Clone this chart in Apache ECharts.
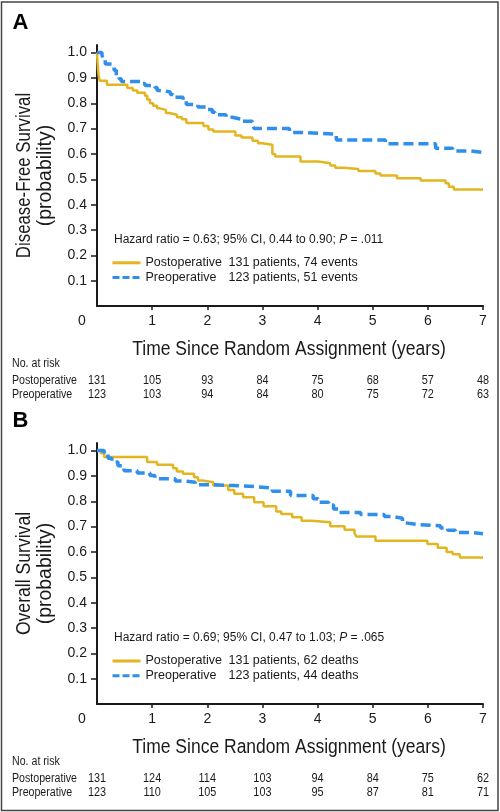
<!DOCTYPE html>
<html><head><meta charset="utf-8">
<script src="https://cdn.jsdelivr.net/npm/echarts@6/dist/echarts.min.js"></script>
<style>html,body{margin:0;padding:0;background:#fff}#c{width:500px;height:812px}</style>
</head><body><div id="c"></div>
<script>
// ---- data ----
const xTicks = [0, 1, 2, 3, 4, 5, 6, 7];
const yTicks = [0.1, 0.2, 0.3, 0.4, 0.5, 0.6, 0.7, 0.8, 0.9, 1.0];

const dfsPostT = [0, 0.01, 0.02, 0.03, 0.05, 0.18, 0.55, 0.65, 0.73, 0.87, 0.91, 0.96, 1.02, 1.09, 1.14, 1.25, 1.31, 1.45, 1.54, 1.62, 1.93, 2.02, 2.11, 2.51, 2.62, 2.82, 2.92, 3.00, 3.18, 3.23, 3.69, 4.01, 4.23, 4.32, 4.47, 4.74, 5.05, 5.14, 5.44, 5.87, 6.32, 6.38, 6.47, 7.0];
const dfsPostS = [1.0, 0.96, 0.93, 0.91, 0.889, 0.873, 0.86, 0.85, 0.842, 0.83, 0.815, 0.80, 0.79, 0.78, 0.774, 0.762, 0.755, 0.745, 0.737, 0.722, 0.71, 0.697, 0.689, 0.673, 0.665, 0.652, 0.642, 0.636, 0.60, 0.59, 0.57, 0.563, 0.554, 0.546, 0.541, 0.533, 0.523, 0.515, 0.504, 0.495, 0.484, 0.471, 0.46, 0.46];

const dfsPreT = [0, 0.09, 0.11, 0.15, 0.27, 0.31, 0.35, 0.40, 0.44, 0.78, 0.87, 1.05, 1.09, 1.14, 1.33, 1.38, 1.56, 1.62, 1.83, 2.00, 2.09, 2.14, 2.34, 2.45, 2.60, 2.82, 2.85, 3.49, 3.69, 4.34, 5.23, 6.14, 6.45, 6.78, 7.0];
const dfsPreS = [1.0, 0.99, 0.975, 0.955, 0.95, 0.93, 0.91, 0.897, 0.886, 0.878, 0.87, 0.862, 0.85, 0.845, 0.835, 0.824, 0.81, 0.795, 0.785, 0.775, 0.765, 0.755, 0.745, 0.738, 0.729, 0.715, 0.70, 0.685, 0.678, 0.655, 0.64, 0.623, 0.612, 0.606, 0.606];

const osPostT = [0, 0.07, 0.13, 0.91, 1.09, 1.38, 1.45, 1.56, 1.76, 1.83, 1.91, 2.11, 2.38, 2.49, 2.65, 2.85, 3.02, 3.25, 3.34, 3.54, 3.71, 3.89, 4.23, 4.49, 4.67, 4.70, 5.05, 5.99, 6.18, 6.34, 6.45, 6.58, 7.0];
const osPostS = [1.0, 0.99, 0.975, 0.955, 0.944, 0.93, 0.918, 0.909, 0.895, 0.882, 0.875, 0.862, 0.845, 0.83, 0.816, 0.796, 0.78, 0.76, 0.75, 0.737, 0.723, 0.717, 0.701, 0.688, 0.675, 0.661, 0.644, 0.631, 0.617, 0.60, 0.591, 0.578, 0.578];

const osPreT = [0, 0.13, 0.20, 0.27, 0.38, 0.49, 0.73, 0.96, 1.05, 1.42, 1.60, 1.78, 2.09, 2.47, 2.87, 3.18, 3.51, 3.92, 4.01, 4.20, 4.29, 4.38, 4.78, 5.21, 5.36, 5.54, 5.59, 5.83, 6.23, 6.36, 6.50, 6.78, 7.0];
const osPreS = [1.0, 0.985, 0.97, 0.955, 0.94, 0.92, 0.912, 0.902, 0.889, 0.88, 0.875, 0.865, 0.862, 0.858, 0.852, 0.84, 0.823, 0.81, 0.796, 0.785, 0.77, 0.756, 0.748, 0.74, 0.733, 0.715, 0.708, 0.703, 0.695, 0.686, 0.677, 0.672, 0.672];

const riskA_post = [131, 105, 93, 84, 75, 68, 57, 48];
const riskA_pre = [123, 103, 94, 84, 80, 75, 72, 63];
const riskB_post = [131, 124, 114, 103, 94, 84, 75, 62];
const riskB_pre = [123, 110, 105, 103, 95, 87, 81, 71];

const groupNames = ['Postoperative', 'Preoperative'];
const legendA = ['131 patients, 74 events', '123 patients, 51 events'];
const legendB = ['131 patients, 62 deaths', '123 patients, 44 deaths'];
const hrA = 'Hazard ratio = 0.63; 95% CI, 0.44 to 0.90; {i|P} = .011';
const hrB = 'Hazard ratio = 0.69; 95% CI, 0.47 to 1.03; {i|P} = .065';
const yTitleA = ['Disease-Free Survival', '(probability)'];
const yTitleB = ['Overall Survival', '(probability)'];
const xTitle = 'Time Since Random Assignment (years)';

// ---- style ----
const SANS = "'Liberation Sans', Arial, sans-serif";
const YEL = '#E3B520';
const BLU = '#2F8FEA';
const INK = '#1a1a1a';

const zip = (T, S) => T.map((t, i) => [t, S[i]]);

const chart = echarts.init(document.getElementById('c'), null, {renderer: 'canvas'});

function xAx(g) {
  return {
    type: 'value', gridIndex: g, min: 0, max: 7, interval: 1,
    axisLine: {lineStyle: {color: INK, width: 2}},
    axisTick: {show: true, length: 4, customValues: xTicks.slice(1), lineStyle: {color: INK, width: 1.5}},
    axisLabel: {
      fontSize: 14, color: INK, fontFamily: SANS, margin: 8,
      formatter: v => v === 0 ? '{z|0}' : String(v),
      rich: {z: {fontSize: 14, color: INK, fontFamily: SANS, padding: [0, 30, 0, 0]}}
    },
    splitLine: {show: false}
  };
}
function yAx(g) {
  return {
    type: 'value', gridIndex: g, min: 0, max: 1.03, interval: 0.1,
    axisLine: {show: true, lineStyle: {color: INK, width: 2}},
    axisTick: {show: true, length: 6, customValues: yTicks, lineStyle: {color: INK, width: 1.5}},
    axisLabel: {customValues: yTicks, fontSize: 14, color: INK, fontFamily: SANS, margin: 10,
      formatter: v => v.toFixed(1)},
    splitLine: {show: false}
  };
}
function ser(name, T, S, g, dashed) {
  return {
    name: name, type: 'line', step: 'end', xAxisIndex: g, yAxisIndex: g,
    data: zip(T, S), symbol: 'none', silent: true,
    lineStyle: dashed ? {color: BLU, width: 3.5, type: [10, 5]} : {color: YEL, width: 2.5},
    itemStyle: {color: dashed ? BLU : YEL}
  };
}
function leg(top, ids, texts) {
  const rt = {fontSize: 12.5, fontFamily: SANS, color: INK, lineHeight: 12};
  return {
    orient: 'vertical', left: 111, top: top, itemWidth: 28, itemHeight: 12, itemGap: 1.7,
    selectedMode: false, padding: 0,
    data: [
      {name: ids[0], lineStyle: {width: 3, color: YEL}, itemStyle: {opacity: 0, borderWidth: 0}},
      {name: ids[1], lineStyle: {width: 3, color: BLU, type: [7, 3]}, itemStyle: {opacity: 0, borderWidth: 0}}
    ],
    formatter: n => {
      const k = n === ids[0] ? 0 : 1;
      return '{n|' + groupNames[k] + '}{d|' + texts[k] + '}';
    },
    textStyle: Object.assign({}, rt, {rich: {n: Object.assign({width: 83}, rt), d: rt}})
  };
}

chart.setOption({
  animation: false,
  backgroundColor: '#fff',
  textStyle: {fontFamily: SANS},
  grid: [
    {left: 97, top: 45, width: 386, height: 261},
    {left: 97, top: 443, width: 386, height: 261}
  ],
  xAxis: [xAx(0), xAx(1)],
  yAxis: [yAx(0), yAx(1)],
  legend: [leg(256.3, ['dfsPost', 'dfsPre'], legendA), leg(654.5, ['osPost', 'osPre'], legendB)],
  series: [
    ser('dfsPost', dfsPostT, dfsPostS, 0, false),
    ser('dfsPre', dfsPreT, dfsPreS, 0, true),
    ser('osPost', osPostT, osPostS, 1, false),
    ser('osPre', osPreT, osPreS, 1, true)
  ]
});

// ---- annotations, axis titles and at-risk tables (positions from the axis scales) ----
const g = [];
g.push({type: 'rect', shape: {x: 1.5, y: 2, width: 496.5, height: 808.5}, style: {fill: null, stroke: '#444', lineWidth: 1.5}, silent: true});
g.push({type: 'text', x: 12.5, y: 23, style: {text: 'A', fontSize: 22, fontWeight: 'bold', fontFamily: SANS, fill: '#000', verticalAlign: 'middle'}});
g.push({type: 'text', x: 12.5, y: 421, style: {text: 'B', fontSize: 22, fontWeight: 'bold', fontFamily: SANS, fill: '#000', verticalAlign: 'middle'}});

function txt(str, x, y, size, opts) {
  const o = opts || {};
  g.push({type: 'text', x: x, y: y, scaleX: o.sx || 1, rotation: o.rot || 0,
    style: {text: str, fontSize: size, fontFamily: SANS, fill: INK, align: o.align || 'left', verticalAlign: 'middle',
      rich: {i: {fontStyle: 'italic', fontSize: size, fontFamily: SANS, fill: INK}}}});
}

function panel(gi, hr, yTitle, scales) {
  const yTop = chart.convertToPixel({yAxisIndex: gi}, 1.03);
  const yBot = chart.convertToPixel({yAxisIndex: gi}, 0);
  const xL = chart.convertToPixel({xAxisIndex: gi}, 0);
  const xR = chart.convertToPixel({xAxisIndex: gi}, 7);
  const yMid = (yTop + yBot) / 2;
  // y-axis title (two lines, rotated)
  g.push({type: 'text', x: 24, y: yMid, rotation: Math.PI / 2, scaleX: scales[0],
    style: {text: yTitle[0], fontSize: 20, fontFamily: SANS, fill: INK, align: 'center', verticalAlign: 'middle'}});
  g.push({type: 'text', x: 45, y: yMid, rotation: Math.PI / 2, scaleX: scales[1],
    style: {text: yTitle[1], fontSize: 20, fontFamily: SANS, fill: INK, align: 'center', verticalAlign: 'middle'}});
  // x-axis title
  g.push({type: 'text', x: (xL + xR) / 2 - 1, y: yBot + 43.5, scaleX: 0.875,
    style: {text: xTitle, fontSize: 20, fontFamily: SANS, fill: INK, align: 'center', verticalAlign: 'middle'}});
  // hazard ratio
  txt(hr, 114, chart.convertToPixel({yAxisIndex: gi}, 0.263), 12);
  // at-risk table
  const rowY = yBot + 57.3;
  txt('No. at risk', 12, rowY, 12.5, {sx: 0.85});
  const riskRows = gi === 0 ? [riskA_post, riskA_pre] : [riskB_post, riskB_pre];
  riskRows.forEach((row, k) => {
    const y = rowY + 17 + 14 * k;
    txt(groupNames[k], 12, y, 12.5, {sx: 0.85});
    row.forEach((v, i) => {
      const px = chart.convertToPixel({xAxisIndex: gi}, xTicks[i]);
      txt(String(v), px, y, 12.8, {sx: 0.85, align: 'center'});
    });
  });
}
panel(0, hrA, yTitleA, [0.84, 0.97]);
panel(1, hrB, yTitleB, [0.88, 0.97]);

chart.setOption({graphic: g});
</script></body></html>
